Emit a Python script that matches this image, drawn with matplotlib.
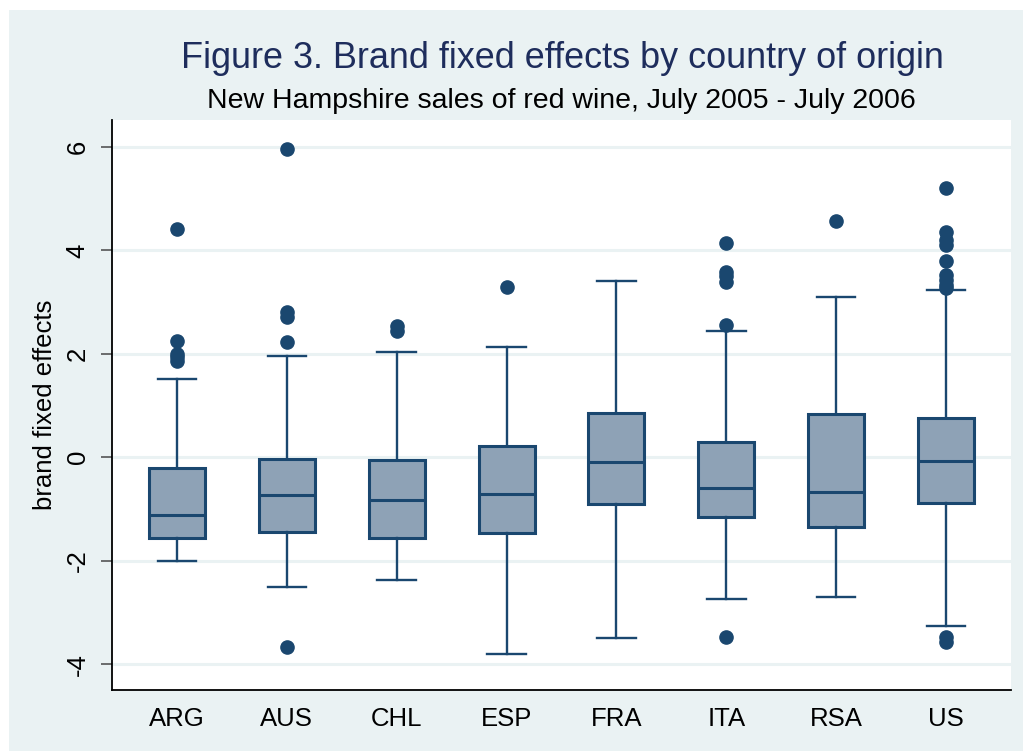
import matplotlib
matplotlib.use("Agg")
import matplotlib.pyplot as plt
from matplotlib.patches import Rectangle

plt.rcParams['font.family'] = ['Liberation Sans', 'DejaVu Sans']

countries = ["ARG", "AUS", "CHL", "ESP", "FRA", "ITA", "RSA", "US"]
q1 = [-1.56, -1.45, -1.57, -1.47, -0.90, -1.15, -1.35, -0.89]
median = [-1.12, -0.73, -0.83, -0.72, -0.10, -0.60, -0.665, -0.065]
q3 = [-0.20, -0.03, -0.05, 0.22, 0.85, 0.30, 0.84, 0.75]
whisker_low = [-2.00, -2.51, -2.37, -3.80, -3.50, -2.75, -2.70, -3.26]
whisker_high = [1.51, 1.96, 2.04, 2.13, 3.40, 2.45, 3.09, 3.24]
outliers = [
    [4.41, 2.25, 2.00, 1.93, 1.87],
    [5.96, 2.80, 2.71, 2.22, -3.66],
    [2.53, 2.45],
    [3.29],
    [],
    [4.14, 3.59, 3.50, 3.38, 2.56, -3.48],
    [4.57],
    [5.20, 4.36, 4.20, 4.11, 3.80, 3.53, 3.43, 3.33, 3.27, -3.48, -3.57],
]
yticks = [-4, -2, 0, 2, 4, 6]

title = "Figure 3. Brand fixed effects by country of origin"
subtitle = "New Hampshire sales of red wine, July 2005 - July 2006"
ylabel = "brand fixed effects"

navy = "#1A476F"
boxfill = "#8EA2B6"
bg = "#EAF2F3"

W, H = 1023, 751
fig = plt.figure(figsize=(W / 100, H / 100), dpi=100, facecolor="white")
fig.patches.append(Rectangle((9 / W, 0), 1 - 9 / W, (H - 10) / H,
                             transform=fig.transFigure, facecolor=bg,
                             edgecolor="none", zorder=-10))

ax = fig.add_axes([112 / W, (H - 690) / H, (1023 - 12 - 112) / W, (690 - 120) / H])
ax.set_facecolor("white")

stats = []
for i, c in enumerate(countries):
    stats.append(dict(label=c, q1=q1[i], med=median[i], q3=q3[i],
                      whislo=whisker_low[i], whishi=whisker_high[i],
                      fliers=outliers[i]))

ax.bxp(stats, positions=range(1, len(countries) + 1), widths=0.51,
       patch_artist=True, showfliers=True,
       boxprops=dict(facecolor=boxfill, edgecolor=navy, linewidth=2.2),
       medianprops=dict(color=navy, linewidth=2.2),
       whiskerprops=dict(color=navy, linewidth=1.7),
       capprops=dict(color=navy, linewidth=1.7),
       capwidths=0.35,
       flierprops=dict(marker="o", markerfacecolor=navy, markeredgecolor=navy,
                       markersize=9.5, linestyle="none"))

ax.set_xlim(0.41, 8.59)
ax.set_ylim(-4.5, 6.52)
ax.set_yticks(yticks)
ax.set_yticklabels([str(t) for t in yticks], rotation=90, va="center",
                   fontsize=18.5)
ax.tick_params(axis="y", length=8, width=1.2, color="#555555", pad=8)
ax.tick_params(axis="x", length=0, pad=12, labelsize=18.5)
ax.set_xticks(range(1, len(countries) + 1))
ax.set_xticklabels(countries)
ax.yaxis.grid(True, color=bg, linewidth=2.2)
ax.set_axisbelow(True)
for s in ["top", "right"]:
    ax.spines[s].set_visible(False)
for s in ["left", "bottom"]:
    ax.spines[s].set_color("black")
    ax.spines[s].set_linewidth(1.3)

ax.set_ylabel(ylabel, fontsize=18.5, labelpad=6)

fig.text(562 / W, 1 - 58 / H, title, ha="center", va="center",
         fontsize=25.9, color="#1E2D5C")
fig.text(561 / W, 1 - 101 / H, subtitle, ha="center", va="center",
         fontsize=20.5, color="black")

fig.savefig("out.png", dpi=100, facecolor=fig.get_facecolor())
